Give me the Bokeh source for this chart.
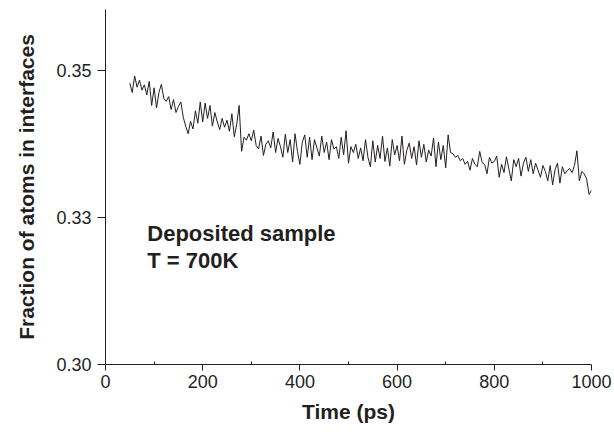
from bokeh.plotting import figure
from bokeh.models import FixedTicker, Label, ColumnDataSource, Range1d
from bokeh.embed import file_html
from bokeh.resources import INLINE

# ---- data ----
time_ps = list(range(50, 1001, 5))
fraction = [
    0.3478, 0.3462, 0.3490, 0.3471, 0.3483, 0.3466, 0.3475, 0.3458, 0.3481, 0.3440,
    0.3470, 0.3436, 0.3462, 0.3476, 0.3452, 0.3447, 0.3455, 0.3433, 0.3450, 0.3428,
    0.3438, 0.3446, 0.3420, 0.3405, 0.3392, 0.3413, 0.3400, 0.3431, 0.3410, 0.3446,
    0.3412, 0.3444, 0.3418, 0.3440, 0.3405, 0.3428, 0.3412, 0.3399, 0.3418, 0.3403,
    0.3415, 0.3396, 0.3426, 0.3387, 0.3408, 0.3440, 0.3362, 0.3386, 0.3381, 0.3392,
    0.3380, 0.3398, 0.3372, 0.3366, 0.3388, 0.3355, 0.3374, 0.3380, 0.3368, 0.3395,
    0.3360, 0.3384, 0.3370, 0.3352, 0.3391, 0.3360, 0.3382, 0.3344, 0.3392, 0.3362,
    0.3340, 0.3378, 0.3390, 0.3352, 0.3386, 0.3348, 0.3382, 0.3368, 0.3354, 0.3388,
    0.3360, 0.3378, 0.3348, 0.3382, 0.3366, 0.3370, 0.3350, 0.3386, 0.3356, 0.3397,
    0.3342, 0.3370, 0.3360, 0.3374, 0.3350, 0.3368, 0.3346, 0.3382, 0.3352, 0.3336,
    0.3380, 0.3344, 0.3372, 0.3350, 0.3388, 0.3345, 0.3368, 0.3337, 0.3382, 0.3356,
    0.3372, 0.3346, 0.3388, 0.3340, 0.3364, 0.3376, 0.3350, 0.3370, 0.3339, 0.3380,
    0.3352, 0.3374, 0.3344, 0.3364, 0.3354, 0.3385, 0.3336, 0.3378, 0.3348, 0.3372,
    0.3334, 0.3390, 0.3360, 0.3358, 0.3352, 0.3355, 0.3346, 0.3350, 0.3340, 0.3345,
    0.3330, 0.3350, 0.3340, 0.3336, 0.3362, 0.3343, 0.3340, 0.3324, 0.3352, 0.3342,
    0.3345, 0.3354, 0.3318, 0.3340, 0.3326, 0.3353, 0.3332, 0.3312, 0.3348, 0.3336,
    0.3350, 0.3320, 0.3342, 0.3352, 0.3328, 0.3348, 0.3324, 0.3342, 0.3330, 0.3318,
    0.3338, 0.3328, 0.3312, 0.3338, 0.3305, 0.3331, 0.3342, 0.3308, 0.3336, 0.3324,
    0.3329, 0.3333, 0.3326, 0.3338, 0.3363, 0.3312, 0.3328, 0.3324, 0.3315, 0.3289,
    0.3296,
]
x_ticks = [0, 200, 400, 600, 800, 1000]
x_minor_ticks = [100, 300, 500, 700, 900]
y_ticks = [0.30, 0.325, 0.35]
y_tick_labels = ["0.30", "0.33", "0.35"]
annotation_lines = ["Deposited sample", "T = 700K"]

FONT = "Liberation Sans"
INK = "#231f20"

p = figure(
    width=614, height=432,
    output_backend="svg", toolbar_location=None,
    x_range=Range1d(0, 1000), y_range=Range1d(0.30, 0.3603),
    min_border_left=105, min_border_right=23, min_border_top=9, min_border_bottom=68,
)
p.outline_line_color = None
p.grid.visible = False
p.background_fill_color = "white"
p.border_fill_color = "white"

src = ColumnDataSource(dict(t=time_ps, f=fraction))
p.line("t", "f", source=src, line_color=INK, line_width=1)

# x axis
xa = p.xaxis[0]
xa.ticker = FixedTicker(ticks=x_ticks, minor_ticks=x_minor_ticks)
xa.axis_label = "Time (ps)"
xa.axis_label_text_font = FONT
xa.axis_label_text_font_style = "bold"
xa.axis_label_text_font_size = "21px"
xa.axis_label_text_color = INK
xa.axis_label_standoff = 9
xa.major_label_text_font = FONT
xa.major_label_text_font_size = "18px"
xa.major_label_text_color = INK
xa.major_label_standoff = 4
xa.major_tick_out = 6
xa.major_tick_in = 0
xa.minor_tick_out = 0
xa.minor_tick_in = 3
xa.axis_line_color = INK
xa.major_tick_line_color = INK
xa.minor_tick_line_color = INK

# y axis
ya = p.yaxis[0]
ya.ticker = FixedTicker(ticks=y_ticks, minor_ticks=[])
ya.major_label_overrides = {t: lab for t, lab in zip(y_ticks, y_tick_labels)}
ya.axis_label = "Fraction of atoms in interfaces"
ya.axis_label_text_font = FONT
ya.axis_label_text_font_style = "bold"
ya.axis_label_text_font_size = "21px"
ya.axis_label_text_color = INK
ya.axis_label_standoff = 15
ya.major_label_text_font = FONT
ya.major_label_text_font_size = "18px"
ya.major_label_text_color = INK
ya.major_label_standoff = 6
ya.major_tick_out = 8
ya.major_tick_in = 0
ya.minor_tick_out = 0
ya.minor_tick_in = 0
ya.axis_line_color = INK
ya.major_tick_line_color = INK

# annotation text
for i, line in enumerate(annotation_lines):
    p.add_layout(Label(
        x=86, y=0.3223 - i * 0.0046, text=line,
        text_font=FONT, text_font_style="bold", text_font_size="22px",
        text_color=INK, text_baseline="alphabetic",
    ))

open("out.html", "w").write(file_html(p, INLINE))
